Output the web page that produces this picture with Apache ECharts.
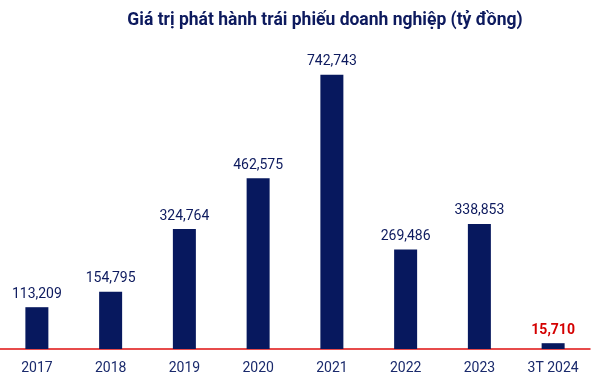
<!DOCTYPE html>
<html><head><meta charset="utf-8">
<script src="https://cdn.jsdelivr.net/npm/echarts@6/dist/echarts.min.js"></script>
<style>html,body{margin:0;padding:0;background:#fff}#c{width:606px;height:384px}</style>
</head><body><div id="c"></div>
<script>
const categories = ["2017","2018","2019","2020","2021","2022","2023","3T 2024"];
const values = [113209,154795,324764,462575,742743,269486,338853,15710];
const chart = echarts.init(document.getElementById('c'), null, {renderer:'canvas'});
const navy = '#07185e';
chart.setOption({
  animation:false,
  title:{text:'Giá trị phát hành trái phiếu doanh nghiệp (tỷ đồng)', left:320, top:7, textAlign:'center',
    textStyle:{fontFamily:'Roboto', fontWeight:'bold', fontSize:17.5, color:'#0d1a5e'}},
  grid:{left:0, width:590, top:53.6, bottom:35, containLabel:false},
  xAxis:{type:'category', data:categories,
    axisLine:{lineStyle:{color:'#e01010', width:1.5}}, axisTick:{show:false},
    axisLabel:{fontFamily:'Roboto', fontSize:14, color:'#1a2a6c', margin:12}},
  yAxis:{type:'value', min:0, max:800000, show:false, splitLine:{show:false}},
  series:[{type:'bar', data:values.map((v,i)=>({value:v,
      label: i===values.length-1 ? {color:'#d40000', fontWeight:'bold'} : undefined})),
    barWidth:23, itemStyle:{color:navy},
    label:{show:true, position:'top', distance:6, fontFamily:'Roboto', fontSize:14, color:'#0d1a5e',
      formatter:p=>p.value.toLocaleString('en-US')}}]
});
</script></body></html>
